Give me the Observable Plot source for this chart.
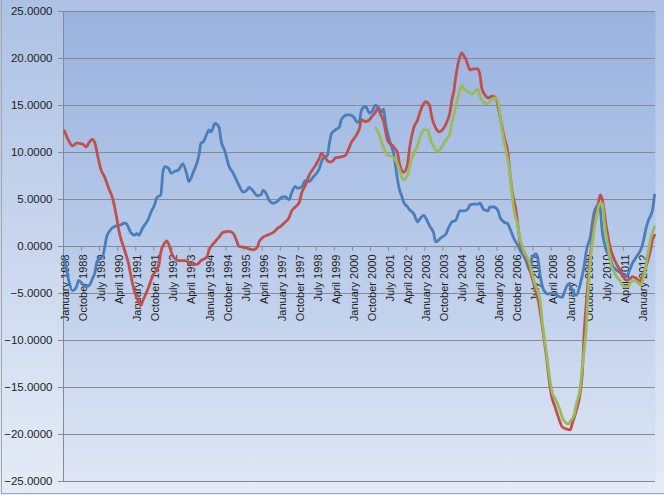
<!DOCTYPE html>
<html>
<head>
<meta charset="utf-8">
<script src="https://cdn.jsdelivr.net/npm/d3@7"></script>
<script src="https://cdn.jsdelivr.net/npm/@observablehq/plot@0.6"></script>
<style>
  html, body { margin: 0; padding: 0; }
  body {
    width: 664px; height: 495px; overflow: hidden; position: relative;
    background: linear-gradient(to bottom, #adc1e5 0%, #c9d7ee 50%, #e5ecf7 100%);
    font-family: "Liberation Sans", Arial, sans-serif;
  }
  #border { position: absolute; left: 1px; top: -5px; width: 680px; height: 499px; border: 1px solid #a3a7ad; box-sizing: border-box; pointer-events: none; }
  #chart { position: absolute; left: 0; top: 0; }
</style>
</head>
<body>
<svg width="0" height="0" style="position:absolute">
  <defs>
    <linearGradient id="plotGrad" x1="0" y1="0" x2="0" y2="1">
      <stop offset="0" stop-color="#98b2df"/>
      <stop offset="0.5" stop-color="#b8cae9"/>
      <stop offset="1" stop-color="#dee6f4"/>
    </linearGradient>
  </defs>
</svg>
<div id="chart"></div>
<div id="border"></div>
<script>
// Month offsets counted from January 1988, value pairs [month, value]
const startMonth = "1988-01";

const tickLabels = ["January 1988","October 1988","July 1989","April 1990","January 1991","October 1991","July 1992","April 1993","January 1994","October 1994","July 1995","April 1996","January 1997","October 1997","July 1998","April 1999","January 2000","October 2000","July 2001","April 2002","January 2003","October 2003","July 2004","April 2005","January 2006","October 2006","July 2007","April 2008","January 2009","October 2009","July 2010","April 2011","January 2012"];

const yTicks = [-25, -20, -15, -10, -5, 0, 5, 10, 15, 20, 25];

const blueSeries = [
[0,-1.3],[2,-3.5],[4,-4.7],[6,-4.3],[7,-3.6],[9,-4.0],[10,-4.2],[12,-4.2],[14,-3.4],[15,-2.9],[16,-1.8],[17,-1.3],[19,-1.1],
[20,-0.1],[21,1.0],[22,1.5],[23,1.8],[24,2.0],[26,2.2],[28,2.3],[30,2.5],[31,2.4],[33,1.5],[35,1.2],[36,1.4],[37,1.2],[39,2.0],
[42,3.0],[43,3.6],[45,4.5],[46,5.2],[48,5.5],[49,7.9],[50,8.5],[52,8.3],[53,7.8],[55,8.0],[57,8.2],[59,8.8],[61,7.6],[62,6.9],
[64,7.8],[67,9.7],[68,11.0],[69,11.1],[71,12.0],[72,12.4],[73,12.2],[75,13.1],[77,12.7],[78,11.3],[80,10.1],[82,8.5],[84,7.8],
[87,6.5],[89,5.8],[91,6.0],[92,6.3],[94,5.9],[96,5.4],[98,5.5],[99,6.0],[101,5.4],[102,4.9],[104,4.6],[106,4.8],[108,5.2],
[110,5.3],[112,5.0],[113,5.6],[115,6.4],[116,6.2],[118,6.3],[120,7.0],[122,6.9],[124,7.4],[126,7.9],[127,8.3],[128,9.0],
[129,9.4],[131,9.7],[132,11.0],[133,12.0],[135,12.4],[137,12.7],[138,13.5],[141,14.0],[142,14.0],[144,13.8],[146,13.2],
[147,13.4],[148,14.5],[150,14.9],[152,14.2],[153,14.3],[155,15.05],[157,14.6],[158,14.3],[159,14.6],[160,13.1],[162,11.3],
[163,10.6],[164,9.9],[165,8.5],[166,7.0],[167,6.0],[168,5.4],[169,4.7],[171,4.2],[172,3.9],[174,3.5],[176,2.6],[177,2.9],
[179,3.3],[181,2.6],[182,2.2],[184,1.4],[185,0.5],[187,0.8],[188,1.0],[190,1.3],[191,1.8],[193,2.6],[195,2.8],[197,3.8],
[199,3.8],[201,4.0],[202,4.4],[204,4.5],[206,4.5],[207,4.6],[209,3.9],[211,3.8],[212,4.2],[214,4.2],[216,3.8],[217,3.1],
[219,2.6],[221,2.4],[222,1.9],[224,0.8],[226,0.1],[227,-0.4],[229,-1.1],[230,-1.5],[232,-2.6],[233,-1.2],[234,-0.9],
[235,-0.8],[236,-1.4],[237,-3.0],[239,-4.7],[241,-5.05],[242,-5.0],[244,-5.05],[246,-5.3],[248,-5.4],[249,-4.9],[251,-4.0],
[252,-4.2],[254,-5.05],[255,-5.2],[257,-4.0],[259,-2.0],[260,-0.5],[261,0.3],[262,1.0],[263,2.5],[264,3.7],[265,4.2],
[266,4.5],[267,3.9],[268,1.6],[269,0.4],[270,-0.4],[272,-1.3],[273,-2.0],[275,-2.5],[277,-2.8],[279,-3.2],[280,-3.2],
[282,-2.3],[283,-1.8],[285,-1.1],[287,-0.4],[288,0.2],[290,2.1],[291,2.8],[293,3.9],[294,5.5]
];

const redSeries = [
[0,12.3],[2,11.3],[4,10.7],[6,11.0],[9,10.9],[11,10.6],[12,11.0],[14,11.4],[15,11.1],[17,9.2],[18,8.3],[20,7.4],[22,6.2],
[24,5.1],[26,3.1],[27,1.8],[30,-0.4],[32,-1.9],[33,-3.0],[35,-4.9],[37,-5.9],[38,-6.3],[39,-5.8],[42,-4.3],[44,-3.1],
[47,-2.0],[48,-0.6],[50,0.4],[51,0.6],[52,0.2],[54,-1.0],[57,-1.5],[59,-1.5],[60,-1.5],[62,-1.7],[63,-1.9],[66,-1.9],
[68,-1.5],[71,-1.1],[72,-0.4],[75,0.5],[77,1.0],[79,1.5],[82,1.6],[84,1.4],[86,0.5],[87,0.0],[90,-0.1],[92,-0.25],
[94,-0.35],[96,-0.1],[97,0.5],[99,1.0],[101,1.2],[104,1.5],[106,1.9],[108,2.2],[110,2.6],[112,3.1],[113,3.7],[115,4.2],
[117,4.7],[118,5.6],[120,6.5],[122,7.6],[125,8.6],[127,9.4],[128,9.9],[130,9.4],[132,9.0],[133,9.0],[135,9.4],[137,9.5],
[140,9.7],[142,10.6],[143,11.1],[145,11.7],[147,12.6],[148,13.5],[150,13.3],[152,13.5],[153,13.8],[155,14.3],[156,14.7],
[157,14.3],[159,13.3],[161,11.3],[162,11.0],[164,10.6],[166,9.9],[167,8.7],[169,7.9],[171,8.8],[172,10.5],[174,12.6],
[176,13.5],[177,14.2],[179,15.2],[180,15.4],[182,15.0],[183,13.8],[185,12.6],[187,12.2],[189,12.6],[191,13.5],[192,14.2],
[193,15.6],[194,16.5],[195,18.1],[197,20.2],[198,20.6],[199,20.3],[200,19.9],[201,19.3],[202,18.8],[204,18.9],[206,18.9],
[207,18.3],[208,16.8],[210,16.0],[211,15.8],[213,16.0],[215,15.8],[216,14.9],[217,13.8],[219,11.7],[221,9.9],[222,7.8],
[223,6.0],[225,3.8],[226,2.1],[227,0.5],[228,-0.3],[229,-0.6],[231,-1.8],[232,-2.5],[234,-4.1],[236,-5.6],[238,-8.4],
[240,-11.5],[242,-15.0],[243,-16.2],[244,-16.8],[246,-18.1],[248,-19.2],[250,-19.4],[252,-19.5],[253,-18.8],[255,-17.5],
[257,-15.5],[258,-13.6],[259,-9.0],[260,-6.0],[261,-3.5],[262,-1.0],[263,0.8],[264,2.5],[266,4.6],[267,5.5],[268,5.0],
[270,2.1],[272,-0.2],[274,-1.4],[277,-2.6],[278,-3.0],[280,-3.6],[282,-3.4],[283,-3.2],[285,-3.4],[287,-3.7],[288,-3.2],
[290,-2.0],[292,-0.4],[293,0.7],[294,1.2]
];

const greenSeries = [
[155,12.6],[157,11.8],[158,11.1],[160,10.1],[161,9.7],[163,9.6],[165,9.2],[167,8.1],[168,7.4],[169,7.1],[171,7.6],[172,8.6],
[174,9.9],[176,10.8],[177,11.5],[179,12.4],[181,12.4],[182,11.7],[184,10.6],[186,10.1],[188,10.6],[190,11.3],[192,12.0],
[193,13.1],[195,14.9],[197,16.6],[198,17.2],[199,16.8],[201,16.5],[203,16.2],[205,16.6],[206,16.8],[207,16.0],[210,15.2],
[211,15.2],[213,15.7],[215,15.8],[216,15.4],[217,14.0],[218,12.5],[220,10.2],[222,7.8],[223,5.6],[224,3.8],[226,2.1],
[227,0.8],[228,0.1],[229,-0.6],[231,-1.3],[232,-2.0],[234,-3.7],[237,-5.8],[238,-7.9],[240,-11.1],[242,-14.3],[243,-15.5],
[245,-16.4],[247,-17.5],[248,-18.2],[250,-18.8],[251,-18.9],[252,-18.6],[254,-17.9],[255,-16.8],[257,-15.0],[258,-12.9],
[260,-8.6],[261,-4.7],[262,-1.5],[263,0.4],[265,3.2],[267,4.6],[268,4.6],[269,2.5],[271,-0.2],[272,-1.6],[274,-2.8],
[277,-3.7],[279,-4.3],[281,-4.3],[282,-3.8],[284,-3.6],[286,-3.9],[287,-4.1],[289,-2.8],[291,-0.4],[292,0.7],[294,2.1]
];

const start = d3.utcParse("%Y-%m")(startMonth);
const toRows = s => s.map(([m, v]) => ({date: d3.utcMonth.offset(start, m), value: v}));
const blue = toRows(blueSeries), red = toRows(redSeries), green = toRows(greenSeries);

const parseLabel = d3.utcParse("%B %Y");
const labelRows = tickLabels.map(t => ({date: parseLabel(t), text: t}));
const halfMonth = 15.2 * 864e5;
const boundaryRows = labelRows.map(d => ({date: new Date(+d.date - halfMonth)}));

const lastDate = d3.utcMonth.offset(start, 294);
const xDomain = [new Date(+start - halfMonth), new Date(+lastDate + halfMonth)];
const yTickLeft = new Date(+xDomain[0] - 5 * halfMonth);

const gridColor = "#878b91";
const textColor = "#1e1e1e";
const lw = 2.8;

const chart = Plot.plot({
  width: 664,
  height: 495,
  marginLeft: 63,
  marginRight: 9,
  marginTop: 11,
  marginBottom: 14,
  style: {background: "transparent", overflow: "visible", fontFamily: "'Liberation Sans', Arial, sans-serif"},
  x: {type: "utc", domain: xDomain, axis: null},
  y: {domain: [-25, 25], axis: null},
  marks: [
    Plot.frame({fill: "url(#plotGrad)", stroke: "none"}),
    Plot.ruleY(yTicks, {x1: yTickLeft, x2: xDomain[1], stroke: gridColor, strokeWidth: 1}),
    Plot.ruleX([xDomain[0]], {y1: -25, y2: 25, stroke: gridColor, strokeWidth: 1}),
    Plot.ruleX(boundaryRows, {x: "date", y1: 0, y2: -0.5, stroke: gridColor, strokeWidth: 1}),
    Plot.text(yTicks, {x: xDomain[0], y: d => d, text: d => d3.format(".4f")(d), textAnchor: "end", dx: -11, fontSize: 11.5, fill: textColor}),
    Plot.text(labelRows, {x: "date", y: 0, text: "text", rotate: -90, textAnchor: "end", dy: 8, dx: 1, fontSize: 11, fill: textColor}),
    Plot.line(blue, {x: "date", y: "value", stroke: "#4a7ebb", strokeWidth: lw, curve: "monotone-x", strokeLinejoin: "round"}),
    Plot.line(red, {x: "date", y: "value", stroke: "#c0504d", strokeWidth: lw, curve: "monotone-x", strokeLinejoin: "round"}),
    Plot.line(green, {x: "date", y: "value", stroke: "#9bbb59", strokeWidth: lw, curve: "monotone-x", strokeLinejoin: "round"})
  ]
});
document.getElementById("chart").appendChild(chart);
</script>
</body>
</html>
